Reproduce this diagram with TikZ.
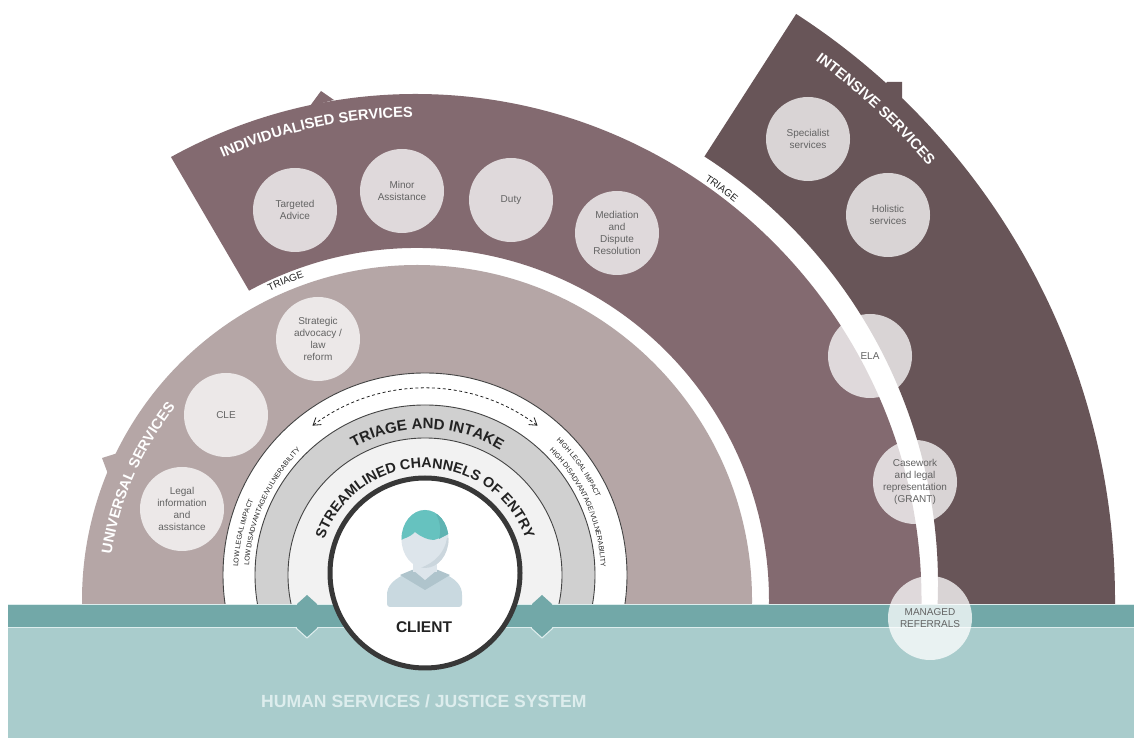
\documentclass[tikz,border=0pt]{standalone}
\usepackage{fontspec}
\setmainfont{Liberation Sans}
\usetikzlibrary{calc,decorations.text,arrows.meta}
\definecolor{cUni}{HTML}{B5A6A6}
\definecolor{cInd}{HTML}{836A70}
\definecolor{cInt}{HTML}{685558}
\definecolor{cTri}{HTML}{D0D0D0}
\definecolor{cStr}{HTML}{F2F2F2}
\definecolor{cLine}{HTML}{444444}
\definecolor{cBand}{HTML}{72A8A8}
\definecolor{cBase}{HTML}{A9CCCC}
\definecolor{cEdge}{HTML}{DDEDED}
\definecolor{cLab}{HTML}{636363}
\definecolor{cDark}{HTML}{222222}
\definecolor{cHair}{HTML}{66C2BF}
\definecolor{cHair2}{HTML}{5FB3B2}
\definecolor{cFace}{HTML}{DDE5EB}
\definecolor{cFace2}{HTML}{CBD6DD}
\definecolor{cBody}{HTML}{C9D9E0}
\definecolor{cCollar}{HTML}{AFC4CC}
\newcommand\arclabel[6]{\path[decorate,decoration={text along path,text align=center,text={|#5|#6}}] ($(#1)+(#2:#3)$) arc[start angle=#2,end angle=#4,radius=#3];}
\newcommand\lblW{\color{white}\bfseries\fontsize{14.6}{15}\selectfont}
\newcommand\lblB{\color{cDark}\bfseries}
\newcommand\lblS{\color{cDark}\fontsize{7}{7}\selectfont}
\newcommand\lblT{\color{cDark}\fontsize{10}{10}\selectfont}
\tikzset{
  px/.style={x=1pt,y=-1pt,yshift=738pt},
  svc/.style={circle,minimum size=84pt,inner sep=0pt,fill=white,fill opacity=.75,text opacity=1,text=cLab,align=center,font=\fontsize{10}{12}\selectfont},
  ringline/.style={draw=cLine,line width=.9pt},
}
\begin{document}
\begin{tikzpicture}[x=1pt,y=1pt]
\useasboundingbox (0,0) rectangle (1134,738);
\fill[white] (0,0) rectangle (1134,738);
\coordinate (O) at (417,138);
\coordinate (Q) at (415.5,138);
\coordinate (T) at (430,154);
\coordinate (C) at (425,163);
% sectors
\fill[cInt] ($(O)+(-1:698)$) arc[start angle=-1,end angle=57.1,radius=698] -- ($(T)+(57.3:508)$) arc[start angle=57.3,end angle=-3,radius=508] -- cycle;
\fill[cInd] ($(Q)+(-1:506)$) arc[start angle=-1,end angle=118.9,radius=506] -- ($(O)+(118.5:352)$) arc[start angle=118.5,end angle=-1,radius=352] -- cycle;
\fill[cUni] ($(O)+(-2:335)$) arc[start angle=-2,end angle=182,radius=335] -- cycle;
\begin{scope}[px]
\fill[cInt] (887,82) -- (902,82) -- (902,100) -- (880,90) -- cycle;
\fill[cInd] (310,106) -- (321,91) -- (334,100) -- cycle;
\fill[cUni] (102,458) -- (118,453) -- (108,474) -- cycle;
\end{scope}
% rings
\begin{scope}
\clip (0,134) rectangle (1134,738);
\fill[white,ringline] (C) circle[radius=202];
\fill[cTri,ringline] (C) circle[radius=170];
\fill[cStr,ringline] (C) circle[radius=137];
\end{scope}
\draw[cDark,line width=.8pt,dash pattern=on 3pt off 2.5pt,{Straight Barb[length=7pt,width=9pt]}-{Straight Barb[length=7pt,width=9pt]}] ($(C)+(127:187)$) arc[start angle=127,end angle=53,radius=187];
% base
\begin{scope}[px]
\fill[cBase] (8,604) rectangle (1134,738);
\fill[cBand] (8,604) rectangle (1134,628);
\draw[cEdge,line width=.8pt] (8,604) -- (1134,604);
\draw[cEdge,line width=1pt] (8,628) -- (1134,628);
\foreach \dx in {307,542}{
  \fill[cBand] (\dx,595) -- (\dx+10,604) -- (\dx+10,628.6) -- (\dx,637) -- (\dx-10,628.6) -- (\dx-10,604) -- cycle;
  \draw[cEdge,line width=1pt] (\dx-11,628) -- (\dx,638) -- (\dx+11,628);
}
\fill[white,draw=cDark!90,line width=5pt] (425,573) circle[radius=95];
% person
\fill[cBody,rounded corners=3pt] (387,607) -- (387,598) .. controls (387,586) and (393,579) .. (412,571) -- (438,571) .. controls (457,579) and (462,586) .. (462,598) -- (462,607) -- cycle;
\fill[cCollar] (400,575) -- (412,570) -- (438,570) -- (450,575) -- (425,590) -- cycle;
\fill[cFace] (413,555) rectangle (437,572) ;
\fill[cFace] (413,570) -- (437,570) -- (425,580) -- cycle;
\fill[cFace] (425,539) ellipse[x radius=23.5,y radius=29];
\begin{scope}
\clip (425,539) ellipse[x radius=23.5,y radius=29];
\fill[cFace2] (447,538) .. controls (445,552) and (435,563) .. (420,568) -- (450,572) -- (450,538) -- cycle;
\fill[cHair] (400,541) -- (403,539) .. controls (409,537) and (412,535) .. (415,532) .. controls (421,537) and (428,540) .. (434,540) .. controls (440,538) and (445,536) .. (450,533) -- (450,505) -- (400,505) -- cycle;
\fill[cHair2] (436,514) .. controls (441,523) and (441,532) .. (439,539) -- (450,533) -- (450,510) -- cycle;
\end{scope}
\node[font=\bfseries\fontsize{15.5}{15.5}\selectfont,text=cDark] (client) at (424,627) {CLIENT};
\node[font=\bfseries\fontsize{17.6}{17.6}\selectfont,text=cEdge,anchor=west,inner sep=0pt] (hs) at (261,701) {HUMAN SERVICES / JUSTICE SYSTEM};
% service circles
\node[svc] (ta) at (295,210) {Targeted\\Advice};
\node[svc] (ma) at (402,191) {Minor\\Assistance};
\node[svc] (du) at (511,200) {Duty};
\node[svc] (me) at (617,233) {Mediation\\and\\Dispute\\Resolution};
\node[svc] (sp) at (808,139) {Specialist\\services};
\node[svc] (ho) at (888,215) {Holistic\\services};
\node[svc] (el) at (870,356) {ELA};
\node[svc] (ca) at (915,482) {Casework\\and legal\\representation\\(GRANT)};
\node[svc] (mr) at (930,618) {MANAGED\\REFERRALS};
\node[svc] (st) at (318,339) {Strategic\\advocacy /\\law\\reform};
\node[svc] (cl) at (226,415) {CLE};
\node[svc] (le) at (182,509) {Legal\\information\\and\\assistance};
\end{scope}
% curved labels
\arclabel{O}{171.3}{309}{141.5}{\lblW}{UNIVERSAL SERVICES}
\arclabel{O}{114}{483}{90.2}{\lblW}{INDIVIDUALISED SERVICES}
\arclabel{O}{53.6}{671}{40.3}{\lblW}{INTENSIVE SERVICES}
\arclabel{O}{117}{342}{107.8}{\lblT}{TRIAGE}
\arclabel{O}{56.5}{509}{50.5}{\lblT}{TRIAGE}
\arclabel{C}{119}{146}{59}{\lblB\fontsize{15}{15}\selectfont}{TRIAGE AND INTAKE}
\arclabel{C}{160}{107}{20}{\lblB\fontsize{14.3}{14.3}\selectfont}{STREAMLINED CHANNELS OF ENTRY}
\arclabel{C}{178}{187}{156}{\lblS}{LOW LEGAL IMPACT}
\arclabel{C}{178}{176}{134}{\lblS}{LOW DISADVANTAGE/VULNERABILITY}
\arclabel{C}{46}{188}{24}{\lblS}{HIGH LEGAL IMPACT}
\arclabel{C}{46.6}{176}{1}{\lblS}{HIGH DISADVANTAGE/VULNERABILITY}
\end{tikzpicture}
\end{document}
